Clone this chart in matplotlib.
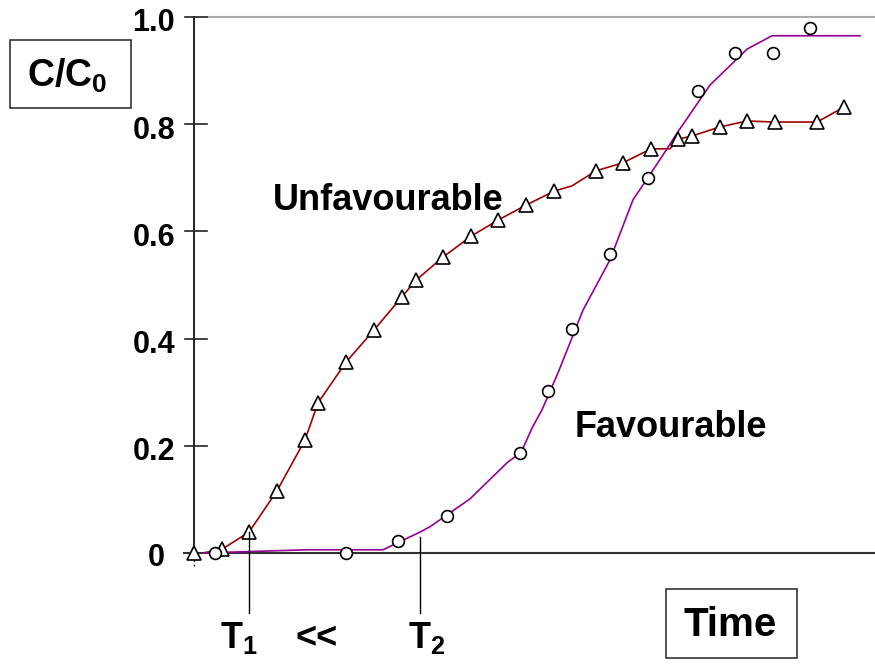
import matplotlib.pyplot as plt
from matplotlib.patches import Rectangle

plt.rcParams['font.family'] = ['Liberation Sans', 'DejaVu Sans']
plt.rcParams['font.weight'] = 'bold'
plt.rcParams['mathtext.fontset'] = 'custom'
plt.rcParams['mathtext.rm'] = 'Liberation Sans:bold'
plt.rcParams['mathtext.bf'] = 'Liberation Sans:bold'
plt.rcParams['mathtext.it'] = 'Liberation Sans:bold'

# Unfavourable (triangles) - time in arbitrary units, C/C0
unf_t = [0, 2.8, 5.5, 8.3, 11.1, 12.4, 15.2, 18.0, 20.8, 22.2, 24.9, 27.7, 30.4,
         33.2, 36.0, 40.2, 42.9, 45.7, 48.4, 49.8, 52.6, 55.3, 58.1, 62.3, 65.0]
unf_c = [0, 0.007, 0.039, 0.116, 0.211, 0.280, 0.356, 0.416, 0.478, 0.509, 0.552,
         0.591, 0.621, 0.649, 0.675, 0.713, 0.728, 0.754, 0.772, 0.778, 0.795,
         0.806, 0.804, 0.804, 0.832]
# curve drawn through the unfavourable points
unf_line_t = [0.9, 2.8, 5.5, 8.3, 11.1, 12.4, 15.2, 18.0, 20.8, 22.2, 24.9, 27.7,
              30.4, 33.2, 36.0, 37.8, 40.2, 42.9, 45.7, 47.6, 48.4, 49.8, 52.6,
              55.3, 58.1, 62.3, 65.0]
unf_line_c = [0, 0.007, 0.039, 0.116, 0.211, 0.280, 0.356, 0.416, 0.478, 0.509,
              0.552, 0.591, 0.621, 0.649, 0.675, 0.685, 0.713, 0.728, 0.754, 0.754,
              0.772, 0.778, 0.795, 0.806, 0.804, 0.804, 0.832]

# Favourable (circles)
fav_t = [2.1, 15.2, 20.4, 25.3, 32.6, 35.4, 37.8, 41.6, 45.4, 50.4, 54.1, 57.9, 61.6]
fav_c = [0, 0, 0.022, 0.069, 0.187, 0.302, 0.418, 0.558, 0.700, 0.862, 0.933,
         0.933, 0.979]
fav_line_t = [0.9, 11.3, 18.9, 22.6, 23.6, 27.6, 31.4, 32.7, 33.8, 34.8, 36.4,
              38.9, 41.6, 43.9, 46.6, 48.4, 51.6, 55.3, 57.8, 66.6]
fav_line_c = [0, 0.006, 0.006, 0.039, 0.049, 0.101, 0.170, 0.187, 0.233, 0.267,
              0.336, 0.453, 0.547, 0.659, 0.734, 0.786, 0.873, 0.940, 0.965, 0.965]

yticks = [0, 0.2, 0.4, 0.6, 0.8, 1.0]
ylabels = ['0', '0.2', '0.4', '0.6', '0.8', '1.0']
t1, t2 = 5.5, 22.6

fig = plt.figure(figsize=(8.75, 6.65), dpi=100)
ax = fig.add_axes([184 / 875, 45 / 665, 691 / 875, 603 / 665])
ax.set_xlim(-1.0, 68.1)
ax.set_ylim(-0.125, 1.0)
ax.axis('off')

# axes drawn by hand
ax.plot([0, 0], [0, 1.0], color='black', lw=1.2, clip_on=False)
ax.plot([0, 0], [0, -0.025], color='black', lw=1.0, ls=(0, (2, 2)), clip_on=False)
ax.plot([-1.0, 68.1], [0, 0], color='#333333', lw=1.5, clip_on=False)
ax.plot([1.3, 68.1], [1.0, 1.0], color='#aaaaaa', lw=1.5, clip_on=False)
for y, lab in zip(yticks, ylabels):
    if y > 0:
        ax.plot([-0.9, 1.3], [y, y], color='#222222', lw=1.2, clip_on=False)
        ax.text(-1.9, y - 0.012, lab, ha='right', va='center', fontsize=22,
                fontweight='bold', clip_on=False)
    else:
        ax.text(-2.9, y - 0.010, lab, ha='right', va='center', fontsize=22,
                fontweight='bold', clip_on=False)

# curves
ax.plot(unf_line_t, unf_line_c, color='#a00000', lw=1.2, clip_on=False)
ax.plot(fav_line_t, fav_line_c, color='#950095', lw=1.2, clip_on=False)
ax.plot(unf_t, unf_c, ls='none', marker='^', ms=10, mfc='white', mec='black',
        mew=1.2, clip_on=False)
ax.plot(fav_t, fav_c, ls='none', marker='o', ms=8.5, mfc='white', mec='black',
        mew=1.2, clip_on=False)

# T1, T2 markers
ax.plot([t1, t1], [0.039, -0.112], color='black', lw=1.0, clip_on=False)
ax.plot([t2, t2], [0.030, -0.112], color='black', lw=1.0, clip_on=False)

ax.text(7.9, 0.640, 'Unfavourable', fontsize=26, fontweight='bold', ha='left',
        va='baseline')
ax.text(38.1, 0.216, 'Favourable', fontsize=26, fontweight='bold', ha='left',
        va='baseline')

# labels below axis (figure pixel coords)
def fx(px):
    return px / 875

def fy(py):
    return (665 - py) / 665

fig.text(fx(220), fy(648), r'$\mathbf{T_1}$', fontsize=26, ha='left', va='baseline')
fig.text(fx(317), fy(648), '<<', fontsize=26, fontweight='bold', ha='center',
         va='baseline')
fig.text(fx(408), fy(648), r'$\mathbf{T_2}$', fontsize=26, ha='left', va='baseline')

# boxed labels
fig.patches.append(Rectangle((fx(10), fy(108)), 121 / 875, 68 / 665,
                             transform=fig.transFigure, fill=False,
                             edgecolor='#333333', lw=1.2))
fig.text(fx(27), fy(87), r'$\mathbf{C/C_0}$', fontsize=27, ha='left', va='baseline')
fig.patches.append(Rectangle((fx(666), fy(658)), 131 / 875, 69 / 665,
                             transform=fig.transFigure, fill=False,
                             edgecolor='#333333', lw=1.2))
fig.text(fx(730), fy(636), 'Time', fontsize=29, fontweight='bold', ha='center',
         va='baseline')

fig.savefig('out.png', dpi=100)
